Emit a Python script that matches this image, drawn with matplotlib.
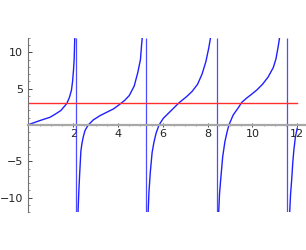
import matplotlib.pyplot as plt
from matplotlib.ticker import MultipleLocator

# Curve points, one list per branch
b1_x = [0.0, 0.5, 0.96, 1.2, 1.45, 1.71, 1.83, 1.92, 1.97, 2.01, 2.04, 2.07]
b1_y = [0.05, 0.6, 1.06, 1.5, 2.0, 2.95, 3.8, 4.8, 6.0, 7.5, 9.0, 12.2]

b2_x = [2.21, 2.25, 2.29, 2.34, 2.39, 2.45, 2.52, 2.60, 2.67, 2.89, 3.19, 3.5,
        3.8, 4.1, 4.3, 4.5, 4.72, 4.88, 5.0, 5.05, 5.09]
b2_y = [-12.2, -9.0, -6.5, -3.6, -2.5, -1.6, -0.8, -0.35, 0.0, 0.69, 1.28, 1.76,
        2.22, 2.9, 3.4, 4.05, 5.35, 7.2, 9.0, 11.0, 12.3]

b3_x = [5.34, 5.38, 5.44, 5.52, 5.6, 5.7, 5.83, 6.02, 6.32, 6.62, 6.74, 7.06,
        7.3, 7.55, 7.75, 7.92, 8.05, 8.14]
b3_y = [-12.2, -9.2, -6.5, -3.8, -2.4, -1.1, 0.0, 0.92, 1.83, 2.75, 3.1, 3.9,
        4.6, 5.6, 7.0, 8.7, 10.6, 12.2]

b4_x = [8.49, 8.53, 8.58, 8.67, 8.77, 8.87, 8.95, 9.14, 9.37, 9.52, 9.74, 9.95,
        10.19, 10.45, 10.7, 10.93, 11.05, 11.15, 11.22]
b4_y = [-12.2, -9.5, -7.6, -4.4, -2.3, -0.92, 0.0, 1.38, 2.38, 3.1, 3.7, 4.2,
        4.8, 5.6, 6.6, 7.9, 9.1, 10.8, 12.2]

b5_x = [11.66, 11.70, 11.75, 11.80, 11.85, 11.92, 12.0]
b5_y = [-12.2, -9.6, -7.6, -5.2, -3.4, -1.6, -0.45]

# jumps at the poles, drawn as vertical joins
poles = [2.11, 5.26, 8.40, 11.55]

level = 3
level_x = [0, 12]

blue = '#2020ff'
red = '#ff3030'

fig = plt.figure(figsize=(3.06, 2.5), dpi=100)
ax = fig.add_axes([0.093, 0.151, 0.904, 0.698])

for bx, by in [(b1_x, b1_y), (b2_x, b2_y), (b3_x, b3_y), (b4_x, b4_y), (b5_x, b5_y)]:
    ax.plot(bx, by, color=blue, lw=1.0)
ax.vlines(poles, -12, 12, color=blue, lw=0.9, alpha=0.8)
ax.plot(level_x, [level, level], color=red, lw=1.0)

ax.set_xlim(0, 12.35)
ax.set_ylim(-12, 12)

# axes through the origin
ax.spines['left'].set_position(('data', 0))
ax.spines['bottom'].set_position(('data', 0))
ax.spines['top'].set_visible(False)
ax.spines['right'].set_visible(False)
ax.spines['bottom'].set_color('#a8a8a8')
ax.spines['bottom'].set_linewidth(1.6)
ax.spines['left'].set_color('#707070')
ax.spines['left'].set_linewidth(0.8)

ax.set_xticks([2, 4, 6, 8, 10, 12])
ax.set_yticks([-10, -5, 5, 10])
ax.xaxis.set_minor_locator(MultipleLocator(0.5))
ax.yaxis.set_minor_locator(MultipleLocator(1))
ax.tick_params(axis='x', which='major', direction='inout', length=3, width=0.7,
               color='#444444', labelsize=8, labelcolor='#222222', pad=1.5)
ax.tick_params(axis='x', which='minor', direction='inout', length=2, width=0.5,
               color='#666666')
ax.tick_params(axis='y', which='major', direction='in', length=3, width=0.7,
               color='#444444', labelsize=8, labelcolor='#222222', pad=4)
ax.tick_params(axis='y', which='minor', direction='in', length=1.5, width=0.5,
               color='#666666')
for lab in ax.get_xticklabels() + ax.get_yticklabels():
    lab.set_family('DejaVu Sans')

fig.savefig('out.png', dpi=100)
